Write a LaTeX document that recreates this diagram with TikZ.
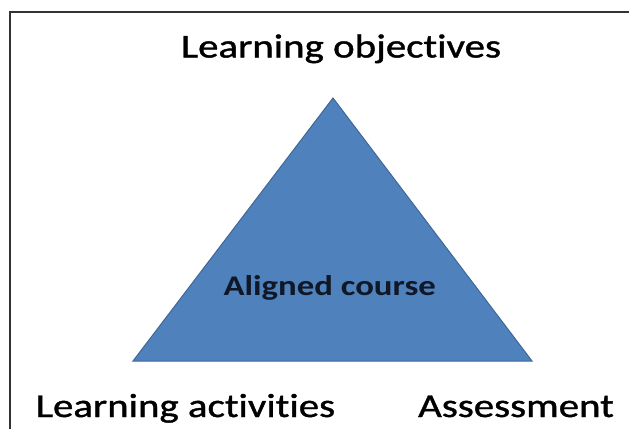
\documentclass[tikz,border=0pt]{standalone}
\usepackage{fontspec}
\setmainfont{Carlito}[FakeStretch=1.22, Ligatures=CommonOff]
\newfontfamily\labelfont{Carlito}[FakeStretch=1.22, FakeBold=1.2, Ligatures=CommonOff]
\definecolor{triblue}{HTML}{4F81BD}
\definecolor{triedge}{HTML}{3F6797}
\definecolor{coretext}{HTML}{101828}
\tikzstyle{corner}=[anchor=base, text=black, inner sep=0pt,
                  font=\labelfont\fontsize{33.5}{38}\selectfont]
\tikzstyle{core}=[anchor=base, text=coretext, inner sep=0pt,
                  font=\bfseries\fontsize{28.5}{32}\selectfont]
\tikzstyle{frameline}=[draw=black!80, line width=1.4pt]

\begin{document}
\begin{tikzpicture}[x=1pt, y=-1pt]
\useasboundingbox (0,0) rectangle (629,429);

% triangle
\coordinate (top) at (333,98);
\coordinate (left) at (133,361);
\coordinate (right) at (532,361);
\draw[fill=triblue, draw=triedge, line width=1pt] (top) -- (left) -- (right) -- cycle;

% frame
\draw[frameline] (10,429) -- (10,12) -- (629,12);

% labels
\node[corner] (obj) at (341,57.5) {Learning objectives};
\node[corner] (act) at (185.5,417) {Learning activities};
\node[corner] (ass) at (516,417) {Assessment};
\node[core] (aligned) at (329.7,295) {Aligned course};

\end{tikzpicture}
\end{document}
